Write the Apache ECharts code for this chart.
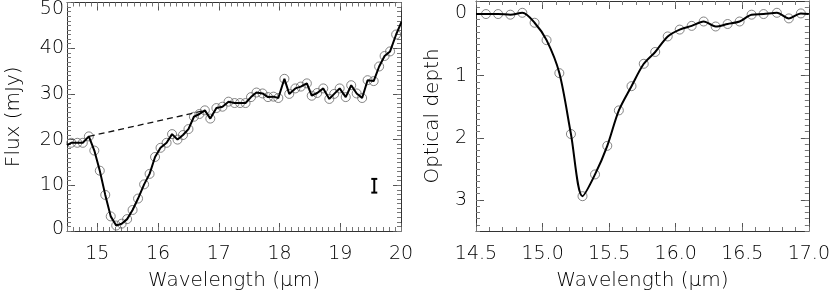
<!DOCTYPE html>
<html>
<head>
<meta charset="utf-8">
<script src="https://cdn.jsdelivr.net/npm/echarts@6/dist/echarts.min.js"></script>
<style>html,body{margin:0;padding:0;background:#fff}#c{width:833px;height:296px}</style>
</head>
<body>
<div id="c"></div>
<script>
// ---- Left panel: flux spectrum ----
const leftWave = [14.57,14.67,14.76,14.86,14.95,15.04,15.13,15.22,15.31,15.40,15.49,15.58,15.67,15.77,15.86,15.95,16.04,16.14,16.23,16.32,16.41,16.50,16.59,16.68,16.77,16.86,16.96,17.06,17.16,17.26,17.35,17.44,17.53,17.62,17.72,17.81,17.90,17.98,18.08,18.16,18.26,18.35,18.45,18.53,18.62,18.72,18.82,18.90,18.99,19.09,19.18,19.27,19.36,19.45,19.55,19.64,19.73,19.82,19.92,20.01];
const leftFlux = [19.3,19.3,19.3,20.7,17.6,13.2,7.9,3.2,1.2,1.6,2.6,4.6,7.1,10.2,12.5,16.2,18.2,19.3,21.2,20.0,21.0,22.3,25.0,25.6,26.4,24.6,26.9,27.2,28.3,28.0,28.0,28.0,29.3,30.3,30.1,29.3,29.4,29.1,33.3,30.0,31.2,31.6,32.3,29.6,30.2,31.2,28.9,30.0,31.2,29.3,31.9,30.1,29.1,33.0,32.8,36.0,38.3,39.3,43.0,45.8];
const leftLineStartWave = 14.50;
const leftLineStartFlux = 18.8;
const contWave = [14.86, 16.75];
const contFlux = [20.7, 26.3];
const errWave = [19.56];
const errLow = [8.4];
const errHigh = [11.4];

// ---- Right panel: optical depth ----
const rightWave = [14.575,14.666,14.758,14.848,14.94,15.03,15.126,15.213,15.30,15.394,15.486,15.573,15.668,15.76,15.846,15.94,16.03,16.12,16.21,16.30,16.39,16.48,16.57,16.66,16.76,16.85,16.94];
const rightTau = [0.01,0.01,0.02,-0.01,0.15,0.43,0.96,1.94,2.94,2.59,2.13,1.56,1.17,0.81,0.62,0.37,0.26,0.20,0.13,0.21,0.17,0.13,0.02,0.01,-0.01,0.08,0.00];
const rightLineEdges = {startWave:14.50, startTau:0.01, endWave:17.0, endTau:0.01};

// ---- Tick values ----
const leftXMajor = [15,16,17,18,19,20];
const leftYMajor = [0,10,20,30,40,50];
const rightXMajor = [14.5,15.0,15.5,16.0,16.5,17.0];
const rightYMajor = [0,1,2,3];

function steps(a, b, s) {
  const out = [];
  const n = Math.round((b - a) / s);
  for (let i = 0; i <= n; i++) out.push(Math.round((a + i * s) * 1000) / 1000);
  return out;
}
const leftXMinor = steps(14.5, 20, 0.1);
const leftYMinor = steps(0, 50, 1);
const rightXMinor = steps(14.5, 17, 0.1);
const rightYMinor = steps(-0.2, 3.5, 0.1);

const FONT = 'DejaVu Sans';
const FW = 200;
const TXT = '#000';

function makeAxes(dim, grid, pos, min, max, majors, minors, extra) {
  extra = extra || {};
  const major = Object.assign({
    type: 'value', gridIndex: grid, position: pos, min: min, max: max,
    inverse: !!extra.inverse,
    axisLine: {show: true, onZero: false, lineStyle: {color: '#333', width: 1}},
    axisTick: {show: true, inside: true, length: 8, customValues: majors, lineStyle: {color: '#555', width: 1}},
    axisLabel: {show: !!extra.labels, customValues: majors, fontFamily: FONT, fontWeight: FW, fontSize: 19, color: TXT,
      margin: extra.margin || 8, formatter: extra.formatter, rich: extra.rich},
    splitLine: {show: false}
  }, extra.nameOpts || {});
  const minor = {
    type: 'value', gridIndex: grid, position: pos, min: min, max: max,
    inverse: !!extra.inverse,
    axisLine: {show: false, onZero: false},
    axisTick: {show: true, inside: true, length: 4, customValues: minors, lineStyle: {color: '#777', width: 1}},
    axisLabel: {show: false},
    splitLine: {show: false}
  };
  return [major, minor];
}

const nameStyle = {fontFamily: FONT, fontWeight: FW, fontSize: 20, color: TXT};
const wlName = 'Wavelength (\u03bcm)';

const xAxis = [].concat(
  makeAxes('x', 0, 'bottom', 14.5, 20, leftXMajor, leftXMinor, {labels: true, margin: 14,
    formatter: v => String(Math.round(v)),
    nameOpts: {name: wlName, nameLocation: 'middle', nameGap: 40, nameTextStyle: nameStyle}}),
  makeAxes('x', 0, 'top', 14.5, 20, leftXMajor, leftXMinor, {}),
  makeAxes('x', 1, 'bottom', 14.5, 17, rightXMajor, rightXMinor, {labels: true, margin: 14,
    formatter: v => v.toFixed(1),
    nameOpts: {name: wlName, nameLocation: 'middle', nameGap: 40, nameTextStyle: nameStyle}}),
  makeAxes('x', 1, 'top', 14.5, 17, rightXMajor, rightXMinor, {})
);

const yAxis = [].concat(
  makeAxes('y', 0, 'left', 0, 50, leftYMajor, leftYMinor, {labels: true, margin: 3,
    formatter: v => { const r = Math.round(v); if (r === 0) return '{lo|0}'; if (r === 50) return '{hi|50}'; return String(r); },
    rich: {lo: {fontFamily: FONT, fontWeight: FW, fontSize: 19, color: TXT, padding: [0,0,4,0]}, hi: {fontFamily: FONT, fontWeight: FW, fontSize: 19, color: TXT, padding: [14,0,0,0]}},
    nameOpts: {name: 'Flux (mJy)', nameLocation: 'middle', nameGap: 43, nameTextStyle: nameStyle}}),
  makeAxes('y', 0, 'right', 0, 50, leftYMajor, leftYMinor, {}),
  makeAxes('y', 1, 'left', -0.2, 3.5, rightYMajor, rightYMinor, {labels: true, inverse: true, margin: 9,
    formatter: v => String(Math.round(v)),
    nameOpts: {name: 'Optical depth', nameLocation: 'middle', nameGap: 33, nameTextStyle: nameStyle}}),
  makeAxes('y', 1, 'right', -0.2, 3.5, rightYMajor, rightYMinor, {inverse: true})
);

const zip = (a, b) => a.map((v, i) => [v, b[i]]);
const leftLine = [[leftLineStartWave, leftLineStartFlux]].concat(zip(leftWave, leftFlux));
const rightLine = [[rightLineEdges.startWave, rightLineEdges.startTau]].concat(zip(rightWave, rightTau), [[rightLineEdges.endWave, rightLineEdges.endTau]]);

const circleStyle = {color: 'rgba(0,0,0,0)', borderColor: '#666', borderWidth: 1};

const option = {
  animation: false,
  backgroundColor: '#fff',
  grid: [
    {left: 67, top: 1, width: 334, height: 234, containLabel: false},
    {left: 476, top: 1, width: 336, height: 234, containLabel: false}
  ],
  xAxis: xAxis,
  yAxis: yAxis,
  series: [
    {type: 'line', xAxisIndex: 0, yAxisIndex: 0, data: zip(contWave, contFlux), showSymbol: false,
      lineStyle: {color: '#111', width: 1.3, type: [6, 4]}, z: 3},
    {type: 'scatter', xAxisIndex: 0, yAxisIndex: 0, data: zip(leftWave, leftFlux), symbol: 'circle', symbolSize: 9,
      itemStyle: circleStyle, z: 2},
    {type: 'line', xAxisIndex: 0, yAxisIndex: 0, data: leftLine, showSymbol: false,
      lineStyle: {color: '#000', width: 2}, z: 4},
    {type: 'custom', xAxisIndex: 0, yAxisIndex: 0, data: errWave.map((w, i) => [w, errLow[i], errHigh[i]]), z: 5,
      renderItem: function (params, api) {
        const lo = api.coord([api.value(0), api.value(1)]);
        const hi = api.coord([api.value(0), api.value(2)]);
        const st = {stroke: '#000', lineWidth: 2};
        return {type: 'group', children: [
          {type: 'line', shape: {x1: lo[0], y1: lo[1], x2: hi[0], y2: hi[1]}, style: st},
          {type: 'line', shape: {x1: lo[0] - 3, y1: lo[1], x2: lo[0] + 3, y2: lo[1]}, style: st},
          {type: 'line', shape: {x1: hi[0] - 3, y1: hi[1], x2: hi[0] + 3, y2: hi[1]}, style: st}
        ]};
      }},
    {type: 'scatter', xAxisIndex: 4, yAxisIndex: 4, data: zip(rightWave, rightTau), symbol: 'circle', symbolSize: 9,
      itemStyle: circleStyle, z: 2},
    {type: 'line', xAxisIndex: 4, yAxisIndex: 4, data: rightLine, showSymbol: false, smooth: 0.3,
      lineStyle: {color: '#000', width: 2}, z: 4}
  ]
};

const chart = echarts.init(document.getElementById('c'), null, {renderer: 'canvas'});
chart.setOption(option);
</script>
</body>
</html>
